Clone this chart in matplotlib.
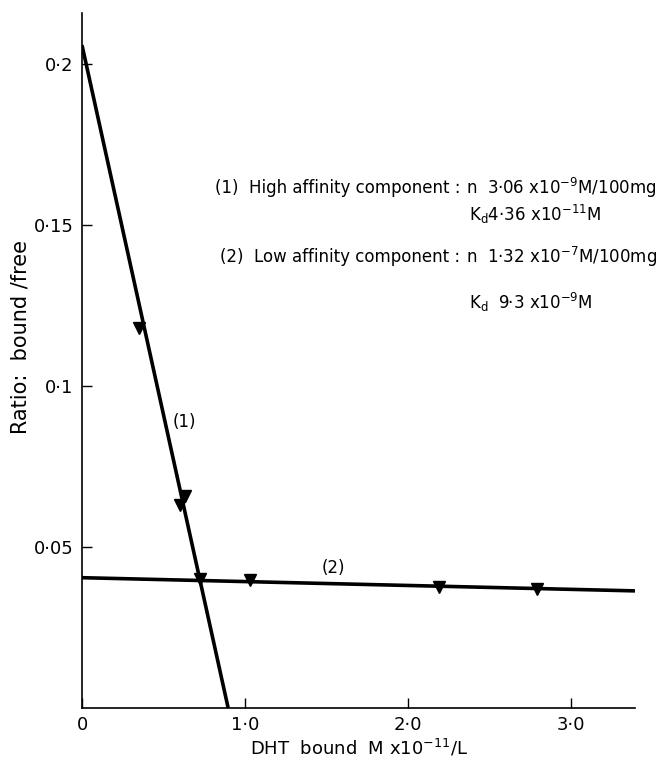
import matplotlib.pyplot as plt

# fitted lines (end points)
fit1_x = [0.0, 0.896]
fit1_y = [0.206, 0.0]
fit2_x = [0.0, 3.39]
fit2_y = [0.0405, 0.0364]

# measured points (triangles)
pts1_x = [0.35, 0.60, 0.63, 0.724]
pts1_y = [0.118, 0.063, 0.066, 0.040]
pts2_x = [1.03, 2.19, 2.79]
pts2_y = [0.0399, 0.0377, 0.0370]

xticks = [0, 1.0, 2.0, 3.0]
xtick_labels = ["0", "1·0", "2·0", "3·0"]
yticks = [0.05, 0.1, 0.15, 0.2]
ytick_labels = ["0·05", "0·1", "0·15", "0·2"]

plt.rcParams['font.family'] = ['DejaVu Sans']

fig = plt.figure(figsize=(6.66, 7.64), dpi=100)
ax = fig.add_axes([82 / 666, 56 / 764, 553 / 666, 695 / 764])

ax.plot(fit1_x, fit1_y, color='black', lw=2.6, solid_capstyle='butt')
ax.plot(fit2_x, fit2_y, color='black', lw=2.6, solid_capstyle='butt')
ax.plot(pts1_x, pts1_y, ls='none', marker='v', ms=9, color='black')
ax.plot(pts2_x, pts2_y, ls='none', marker='v', ms=9, color='black')

ax.set_xlim(0, 3.39)
ax.set_ylim(0, 0.216)
for side in ['top', 'right']:
    ax.spines[side].set_visible(False)
for side in ['left', 'bottom']:
    ax.spines[side].set_linewidth(1.2)

ax.set_xticks(xticks)
ax.set_xticklabels(xtick_labels)
ax.set_yticks(yticks)
ax.set_yticklabels(ytick_labels)
ax.tick_params(direction='in', length=7, width=1, labelsize=13, pad=6)

ax.set_xlabel("DHT  bound  M x10$^{-11}$/L", fontsize=13)
ax.xaxis.set_label_coords(0.5, -0.042)
ax.set_ylabel("Ratio:  bound /free", fontsize=15)
ax.yaxis.set_label_coords(-0.094, 0.534)

ax.text(0.63, 0.089, "(1)", fontsize=12, ha='center', va='center')
ax.text(1.54, 0.0435, "(2)", fontsize=12, ha='center', va='center')

tr = ax.transAxes
ax.text(0.684, 0.748, "(1)  High affinity component :", transform=tr,
        fontsize=12, ha='right', va='center')
ax.text(0.694, 0.748, "n  3·06 x10$^{-9}$M/100mg", transform=tr,
        fontsize=12, ha='left', va='center')
ax.text(0.700, 0.710, "K$_\\mathregular{d}$4·36 x10$^{-11}$M", transform=tr,
        fontsize=12, ha='left', va='center')
ax.text(0.684, 0.649, "(2)  Low affinity component :", transform=tr,
        fontsize=12, ha='right', va='center')
ax.text(0.694, 0.649, "n  1·32 x10$^{-7}$M/100mg", transform=tr,
        fontsize=12, ha='left', va='center')
ax.text(0.700, 0.583, "K$_\\mathregular{d}$  9·3 x10$^{-9}$M", transform=tr,
        fontsize=12, ha='left', va='center')

fig.savefig("out.png", dpi=100)
